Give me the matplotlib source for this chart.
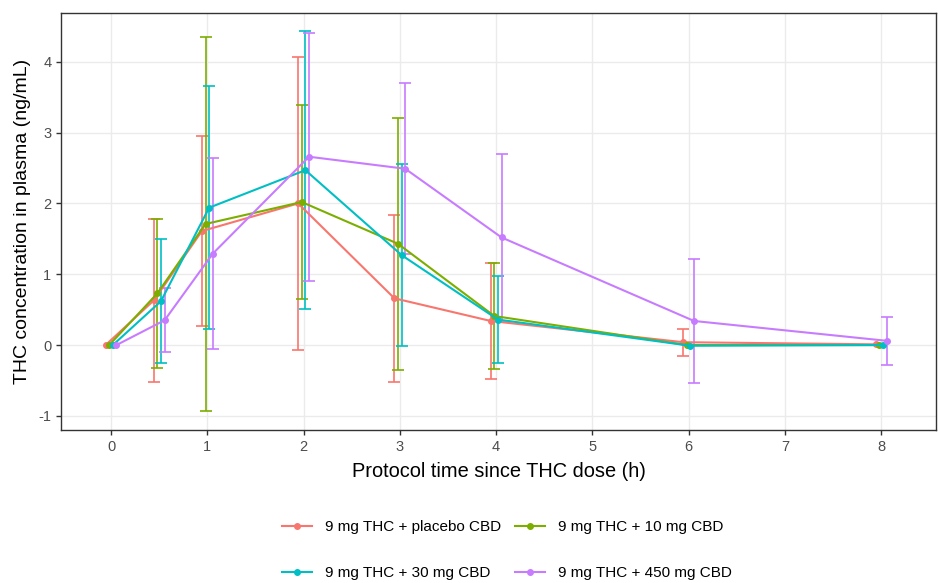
import matplotlib
matplotlib.use("Agg")
import matplotlib.pyplot as plt
from matplotlib.lines import Line2D
import numpy as np

plt.rcParams['font.family'] = ['Liberation Sans', 'DejaVu Sans']
plt.rcParams['axes.unicode_minus'] = False

times = [0, 0.5, 1, 2, 3, 4, 6, 8]
labels = ["9 mg THC + placebo CBD", "9 mg THC + 10 mg CBD",
          "9 mg THC + 30 mg CBD", "9 mg THC + 450 mg CBD"]
colors = ["#F8766D", "#7CAE00", "#00BFC4", "#C77CFF"]

mean_placebo = [0, 0.63, 1.61, 2.00, 0.66, 0.34, 0.04, 0.01]
sd_placebo   = [0, 1.15, 1.34, 2.07, 1.18, 0.82, 0.19, 0.03]
mean_10      = [0, 0.73, 1.71, 2.02, 1.43, 0.41, 0.00, 0.00]
sd_10        = [0, 1.05, 2.64, 1.37, 1.78, 0.75, 0.00, 0.00]
mean_30      = [0, 0.62, 1.94, 2.47, 1.27, 0.36, -0.01, 0.00]
sd_30        = [0, 0.88, 1.72, 1.96, 1.29, 0.61, 0.00, 0.00]
mean_450     = [0, 0.35, 1.29, 2.66, 2.49, 1.52, 0.34, 0.06]
sd_450       = [0, 0.45, 1.35, 1.75, 1.21, 1.18, 0.87, 0.34]

means = [mean_placebo, mean_10, mean_30, mean_450]
sds = [sd_placebo, sd_10, sd_30, sd_450]

dodge_w = 0.15
offsets = [(-3 + 2 * i) * dodge_w / 8 for i in range(4)]

fig = plt.figure(figsize=(9.38, 5.83), dpi=100)
ax = fig.add_axes([61 / 938, 1 - 430 / 583, (936 - 61) / 938, (430 - 13) / 583])

t = np.array(times)
for m, s, c, off in zip(means, sds, colors, offsets):
    m = np.array(m)
    s = np.array(s)
    keep = s > 0.05
    ax.errorbar(t[keep] + off, m[keep], yerr=s[keep], fmt='none', ecolor=c,
                elinewidth=1.2, capsize=4, capthick=1.2, zorder=3)
for m, c, off, lab in zip(means, colors, offsets, labels):
    ax.plot(t + off, m, color=c, lw=1.5, marker='o', ms=4, zorder=4, label=lab)

ax.set_xlim(-0.52, 8.57)
ax.set_ylim(-1.2, 4.69)
ax.set_xticks(range(0, 9))
ax.set_yticks(range(-1, 5))
ax.grid(True, color='#EBEBEB', lw=1.0, zorder=0)
ax.set_axisbelow(True)
for sp in ax.spines.values():
    sp.set_color('#333333')
    sp.set_linewidth(1.0)
ax.tick_params(axis='both', colors='#333333', labelcolor='#4D4D4D',
               labelsize=10.5, length=3.5, width=1.0)
ax.set_xlabel("Protocol time since THC dose (h)", fontsize=14.4, labelpad=6)
ax.set_ylabel("THC concentration in plasma (ng/mL)", fontsize=14, labelpad=5)

order = [0, 2, 1, 3]
handles = [Line2D([], [], color=colors[i], lw=1.5, marker='o', ms=4) for i in order]
fig.legend(handles, [labels[i] for i in order], loc='center',
           bbox_to_anchor=(507 / 938, 1 - 550 / 583),
           ncol=2, frameon=False, fontsize=11, handlelength=1.96,
           labelspacing=2.1, columnspacing=0.9, handletextpad=0.85)

fig.savefig("out.png", dpi=100)
